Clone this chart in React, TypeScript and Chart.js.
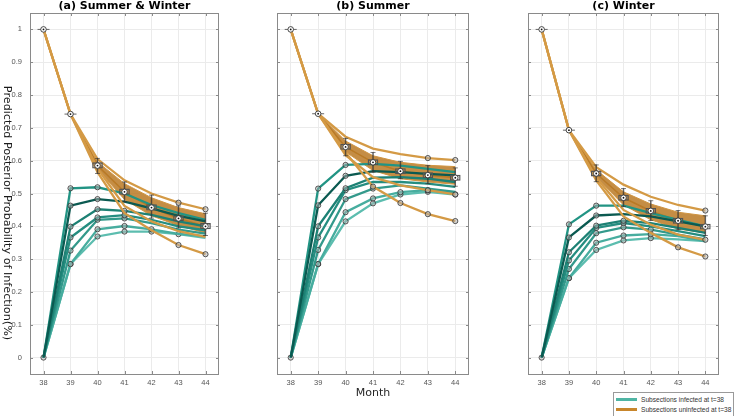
import React, { useEffect, useRef } from 'react';
import { Chart, registerables } from 'chart.js';
Chart.register(...registerables);

const months = [38, 39, 40, 41, 42, 43, 44];
const boxMonths = [40, 41, 42, 43, 44];
const collapsedMonths = [38, 39];
const yTickValues = [0, 0.1, 0.2, 0.3, 0.4, 0.5, 0.6, 0.7, 0.8, 0.9, 1];
const yTickLabels = ['0', '0.1', '0.2', '0.3', '0.4', '0.5', '0.6', '0.7', '0.8', '0.9', '1'];
const panelTitles = ['(a) Summer & Winter', '(b) Summer', '(c) Winter'];
const yAxisTitle = 'Predicted Posterior Probability of Infection(%)';
const xAxisTitle = 'Month';
const legendLabels = ['Subsections infected at t=38', 'Subsections uninfected at t=38'];

// ---- Panel (a) Summer & Winter ----
const aTeal1 = [0, 0.516, 0.519, 0.5, 0.465, 0.44, 0.42];
const aTeal2 = [0, 0.463, 0.483, 0.475, 0.455, 0.432, 0.415];
const aTeal3 = [0, 0.399, 0.452, 0.447, 0.435, 0.415, 0.4];
const aTeal4 = [0, 0.366, 0.427, 0.434, 0.42, 0.4, 0.388];
const aTeal5 = [0, 0.326, 0.42, 0.424, 0.41, 0.39, 0.378];
const aTeal6 = [0, 0.285, 0.391, 0.401, 0.391, 0.377, 0.37];
const aTeal7 = [0, 0.285, 0.369, 0.384, 0.384, 0.376, 0.365];
const aOrUpper = [1, 0.742, 0.605, 0.54, 0.5, 0.472, 0.452];
const aOrBandHi = [1, 0.742, 0.596, 0.53, 0.487, 0.457, 0.438];
const aOrMain = [1, 0.742, 0.585, 0.505, 0.457, 0.424, 0.4];
const aOrBandLo = [1, 0.742, 0.574, 0.482, 0.432, 0.402, 0.38];
const aOrLow = [1, 0.742, 0.576, 0.462, 0.415, 0.385, 0.368];
const aOrSteep = [1, 0.742, 0.565, 0.44, 0.388, 0.343, 0.315];
const aBoxLow = [0.577, 0.497, 0.449, 0.417, 0.392];
const aBoxHigh = [0.594, 0.514, 0.466, 0.432, 0.409];
const aWhiskerLow = [0.561, 0.475, 0.425, 0.395, 0.372];
const aWhiskerHigh = [0.607, 0.535, 0.495, 0.462, 0.44];

// ---- Panel (b) Summer ----
const bTeal1 = [0, 0.515, 0.587, 0.59, 0.585, 0.575, 0.565];
const bTeal2 = [0, 0.464, 0.554, 0.568, 0.565, 0.56, 0.555];
const bTeal3 = [0, 0.4, 0.516, 0.548, 0.55, 0.545, 0.535];
const bTeal4 = [0, 0.366, 0.51, 0.535, 0.535, 0.53, 0.52];
const bTeal5 = [0, 0.328, 0.483, 0.515, 0.525, 0.515, 0.505];
const bTeal6 = [0, 0.285, 0.443, 0.485, 0.504, 0.51, 0.5];
const bTeal7 = [0, 0.285, 0.415, 0.47, 0.497, 0.505, 0.497];
const bOrUpper = [1, 0.743, 0.673, 0.637, 0.62, 0.608, 0.602];
const bOrBandHi = [1, 0.743, 0.66, 0.615, 0.595, 0.586, 0.582];
const bOrMain = [1, 0.743, 0.642, 0.595, 0.568, 0.556, 0.548];
const bOrBandLo = [1, 0.743, 0.627, 0.57, 0.545, 0.535, 0.528];
const bOrLow = [1, 0.743, 0.617, 0.55, 0.525, 0.51, 0.497];
const bOrSteep = [1, 0.743, 0.625, 0.521, 0.471, 0.437, 0.416];
const bBoxLow = [0.634, 0.587, 0.56, 0.548, 0.54];
const bBoxHigh = [0.65, 0.603, 0.576, 0.564, 0.556];
const bWhiskerLow = [0.615, 0.565, 0.545, 0.53, 0.522];
const bWhiskerHigh = [0.668, 0.625, 0.598, 0.585, 0.578];

// ---- Panel (c) Winter ----
const cTeal1 = [0, 0.406, 0.463, 0.463, 0.44, 0.42, 0.4];
const cTeal2 = [0, 0.366, 0.433, 0.437, 0.43, 0.415, 0.4];
const cTeal3 = [0, 0.321, 0.402, 0.417, 0.41, 0.395, 0.38];
const cTeal4 = [0, 0.296, 0.395, 0.41, 0.4, 0.385, 0.37];
const cTeal5 = [0, 0.27, 0.379, 0.397, 0.39, 0.375, 0.36];
const cTeal6 = [0, 0.242, 0.35, 0.372, 0.376, 0.37, 0.355];
const cTeal7 = [0, 0.242, 0.328, 0.357, 0.364, 0.36, 0.355];
const cOrUpper = [1, 0.693, 0.58, 0.527, 0.49, 0.465, 0.448];
const cOrBandHi = [1, 0.693, 0.572, 0.505, 0.468, 0.443, 0.432];
const cOrMain = [1, 0.693, 0.561, 0.487, 0.447, 0.417, 0.399];
const cOrBandLo = [1, 0.693, 0.55, 0.465, 0.42, 0.392, 0.38];
const cOrLow = [1, 0.693, 0.548, 0.45, 0.405, 0.375, 0.359];
const cOrSteep = [1, 0.693, 0.54, 0.43, 0.38, 0.336, 0.308];
const cBoxLow = [0.553, 0.479, 0.439, 0.409, 0.391];
const cBoxHigh = [0.569, 0.495, 0.455, 0.425, 0.407];
const cWhiskerLow = [0.536, 0.46, 0.418, 0.39, 0.372];
const cWhiskerHigh = [0.587, 0.515, 0.478, 0.448, 0.432];

const TEAL_COLORS = ['#229484', '#0b5a51', '#1d8174', '#258d80', '#33998b', '#47ad9f', '#5cbdaf'];
const ORANGE = '#d49a45';
const BAND_FILL = 'rgba(186,121,36,0.85)';
const BAND_EDGE = '#cf9442';
const MAIN_LINE = '#b97a26';
const LEGEND_TEAL = '#4fb5a4';
const LEGEND_ORANGE = '#c8862c';

type PanelSpec = {
  title: string;
  teal: number[][];
  tealMarks: number[][];
  orUpper: number[];
  orBandHi: number[];
  orMain: number[];
  orBandLo: number[];
  orLow: number[];
  orSteep: number[];
  upperMarks: number[];
  lowMarks: number[];
  steepMarks: number[];
  boxLow: number[];
  boxHigh: number[];
  whLow: number[];
  whHigh: number[];
  left: number;
  width: number;
  yWidth: number;
  padRight: number;
  showY: boolean;
  showMonth: boolean;
};

const panels: PanelSpec[] = [
  {
    title: panelTitles[0],
    teal: [aTeal1, aTeal2, aTeal3, aTeal4, aTeal5, aTeal6, aTeal7],
    tealMarks: [[0, 1, 2], [1, 2], [1, 2, 3], [1, 2, 3], [1, 2, 3], [1, 2, 3, 4], [1, 2, 3, 4, 5]],
    orUpper: aOrUpper, orBandHi: aOrBandHi, orMain: aOrMain, orBandLo: aOrBandLo, orLow: aOrLow, orSteep: aOrSteep,
    upperMarks: [5, 6], lowMarks: [], steepMarks: [5, 6],
    boxLow: aBoxLow, boxHigh: aBoxHigh, whLow: aWhiskerLow, whHigh: aWhiskerHigh,
    left: 0, width: 240, yWidth: 30, padRight: 21, showY: true, showMonth: false,
  },
  {
    title: panelTitles[1],
    teal: [bTeal1, bTeal2, bTeal3, bTeal4, bTeal5, bTeal6, bTeal7],
    tealMarks: [[0, 1, 2], [1, 2], [1, 2], [1, 2], [1, 2, 3], [1, 2, 3, 4, 5], [1, 2, 3, 4, 5, 6]],
    orUpper: bOrUpper, orBandHi: bOrBandHi, orMain: bOrMain, orBandLo: bOrBandLo, orLow: bOrLow, orSteep: bOrSteep,
    upperMarks: [5, 6], lowMarks: [5, 6], steepMarks: [3, 4, 5, 6],
    boxLow: bBoxLow, boxHigh: bBoxHigh, whLow: bWhiskerLow, whHigh: bWhiskerHigh,
    left: 240, width: 240, yWidth: 37, padRight: 11, showY: false, showMonth: true,
  },
  {
    title: panelTitles[2],
    teal: [cTeal1, cTeal2, cTeal3, cTeal4, cTeal5, cTeal6, cTeal7],
    tealMarks: [[0, 1, 2], [1, 2], [1, 2, 3], [1, 2, 3], [1, 2, 3, 4], [1, 2, 3, 4], [1, 2, 3, 4]],
    orUpper: cOrUpper, orBandHi: cOrBandHi, orMain: cOrMain, orBandLo: cOrBandLo, orLow: cOrLow, orSteep: cOrSteep,
    upperMarks: [6], lowMarks: [6], steepMarks: [5, 6],
    boxLow: cBoxLow, boxHigh: cBoxHigh, whLow: cWhiskerLow, whHigh: cWhiskerHigh,
    left: 480, width: 254, yWidth: 48, padRight: 15, showY: false, showMonth: false,
  },
];

const pts = (ys: number[]) => ys.map((y, i) => ({ x: months[i], y }));
const marker = (marks: number[]) => (ctx: any) => (marks.includes(ctx.dataIndex) ? 2.6 : 0);

function buildDatasets(p: PanelSpec): any[] {
  const ds: any[] = [];
  // band
  ds.push({ type: 'line', data: pts(p.orBandLo), borderColor: BAND_EDGE, borderWidth: 1, pointRadius: 0, fill: false, order: 8 });
  ds.push({ type: 'line', data: pts(p.orBandHi), borderColor: BAND_EDGE, borderWidth: 1, pointRadius: 0, fill: '-1', backgroundColor: BAND_FILL, order: 8 });
  // teal lines
  p.teal.forEach((t, i) => {
    ds.push({
      type: 'line', data: pts(t), borderColor: TEAL_COLORS[i], borderWidth: 2.3, fill: false,
      pointRadius: marker(p.tealMarks[i]), pointBackgroundColor: 'rgba(175,175,175,0.5)',
      pointBorderColor: '#333333', pointBorderWidth: 0.8, order: 5 + (i === 1 ? -1 : 0),
    });
  });
  // orange lines
  const orangeLine = (ys: number[], marks: number[]) => ({
    type: 'line', data: pts(ys), borderColor: ORANGE, borderWidth: 2.3, fill: false,
    pointRadius: marker(marks), pointBackgroundColor: 'rgba(175,175,175,0.5)',
    pointBorderColor: '#333333', pointBorderWidth: 0.8, order: 3,
  });
  ds.push(orangeLine(p.orUpper, p.upperMarks));
  ds.push(orangeLine(p.orLow, p.lowMarks));
  ds.push(orangeLine(p.orSteep, p.steepMarks));
  ds.push({ type: 'line', data: pts(p.orMain), borderColor: MAIN_LINE, borderWidth: 1.6, pointRadius: 0, fill: false, order: 6 });
  // boxes
  ds.push({
    type: 'bar', data: boxMonths.map((m, i) => ({ x: m, y: [p.boxLow[i], p.boxHigh[i]] })),
    backgroundColor: 'rgba(255,255,255,0.06)', borderColor: '#505050', borderWidth: 0.7, borderSkipped: false,
    barThickness: 10, grouped: false, order: 2,
  });
  ds.push({
    type: 'bar', data: boxMonths.map((m, i) => ({ x: m, y: [p.whLow[i], p.whHigh[i]] })),
    backgroundColor: 'rgba(50,50,50,0.75)', borderWidth: 0, barThickness: 0.8, grouped: false, order: 2,
  });
  // whisker caps and collapsed boxes at 38 / 39
  ds.push({
    type: 'scatter',
    data: [
      ...boxMonths.map((m, i) => ({ x: m, y: p.whLow[i] })),
      ...boxMonths.map((m, i) => ({ x: m, y: p.whHigh[i] })),
    ],
    pointStyle: 'line', pointRadius: 2.5, pointBorderColor: 'rgba(50,50,50,0.8)', pointBorderWidth: 0.8, order: 1,
  });
  ds.push({
    type: 'scatter', data: collapsedMonths.map((m, i) => ({ x: m, y: p.orMain[i] })),
    pointStyle: 'line', pointRadius: 6, pointBorderColor: '#666666', pointBorderWidth: 1, order: 1,
  });
  // medians
  ds.push({
    type: 'scatter', data: pts(p.orMain), pointRadius: 2.8, pointBackgroundColor: '#ffffff',
    pointBorderColor: '#333333', pointBorderWidth: 0.9, order: 0,
  });
  ds.push({
    type: 'scatter', data: pts(p.orMain), pointRadius: 0.9, pointBackgroundColor: '#111111',
    pointBorderWidth: 0, order: -1,
  });
  return ds;
}

function makeFramePlugin(p: PanelSpec) {
  return {
    id: 'frameAndText',
    afterDraw(chart: any) {
      const { ctx, chartArea: a, scales } = chart;
      ctx.save();
      ctx.strokeStyle = '#8a8a8a';
      ctx.lineWidth = 1;
      ctx.strokeRect(Math.round(a.left) + 0.5, Math.round(a.top) + 0.5, Math.round(a.right - a.left) - 1, Math.round(a.bottom - a.top));
      ctx.beginPath();
      scales.x.ticks.forEach((t: any) => {
        const x = Math.round(scales.x.getPixelForValue(t.value)) + 0.5;
        ctx.moveTo(x, a.bottom); ctx.lineTo(x, a.bottom - 3);
        ctx.moveTo(x, a.top); ctx.lineTo(x, a.top + 3);
      });
      scales.y.ticks.forEach((t: any) => {
        const y = Math.round(scales.y.getPixelForValue(t.value)) + 0.5;
        ctx.moveTo(a.left, y); ctx.lineTo(a.left + 3, y);
        ctx.moveTo(a.right, y); ctx.lineTo(a.right - 3, y);
      });
      ctx.stroke();
      ctx.fillStyle = '#000000';
      ctx.font = 'bold 11px "DejaVu Sans"';
      ctx.textAlign = 'center';
      ctx.textBaseline = 'middle';
      ctx.fillText(p.title, (a.left + a.right) / 2, 6);
      if (p.showY) {
        ctx.translate(6.5, 213);
        ctx.rotate(Math.PI / 2);
        ctx.font = '11.2px "DejaVu Sans"';
        ctx.fillStyle = '#1a1a1a';
        ctx.fillText(yAxisTitle, 0, 0);
      }
      ctx.restore();
    },
  };
}

function Panel({ p }: { p: PanelSpec }) {
  const ref = useRef<HTMLCanvasElement>(null);
  useEffect(() => {
    if (!ref.current) return;
    const chart = new Chart(ref.current, {
      type: 'line',
      data: { datasets: buildDatasets(p) },
      options: {
        responsive: false,
        animation: false,
        layout: { padding: { top: 13, right: p.padRight, left: 0, bottom: 0 } },
        plugins: { legend: { display: false }, tooltip: { enabled: false }, title: { display: false } },
        scales: {
          x: {
            type: 'linear', min: 37.5, max: 44.5, offset: false,
            afterBuildTicks: (s: any) => { s.ticks = months.map((v) => ({ value: v })); },
            afterFit: (s: any) => { s.height = 42; },
            ticks: { font: { family: '"Liberation Sans"', size: 7.5 }, color: '#555555', padding: 4, callback: (v: any) => String(v) },
            grid: { color: '#ebebeb', drawTicks: false, offset: false },
            border: { display: false },
            title: {
              display: p.showMonth, text: xAxisTitle, color: '#262626',
              font: { family: '"DejaVu Sans"', size: 11 }, padding: { top: 0, bottom: 16 },
            },
          },
          y: {
            type: 'linear', min: -0.05, max: 1.05,
            afterBuildTicks: (s: any) => { s.ticks = yTickValues.map((v) => ({ value: v })); },
            afterFit: (s: any) => { s.width = p.yWidth; },
            ticks: {
              display: p.showY, font: { family: '"Liberation Sans"', size: 7.5 }, color: '#555555', padding: 8,
              callback: (_v: any, i: number) => yTickLabels[i],
            },
            grid: { color: '#ebebeb', drawTicks: false },
            border: { display: false },
          },
        },
      } as any,
      plugins: [makeFramePlugin(p)],
    });
    return () => chart.destroy();
  }, [p]);
  return (
    <canvas
      ref={ref}
      width={p.width}
      height={416}
      style={{ position: 'absolute', left: p.left, top: 0, width: p.width, height: 416 }}
    />
  );
}

export default function App() {
  return (
    <div style={{ position: 'fixed', left: 0, top: 0, width: 734, height: 416, background: '#ffffff', overflow: 'hidden' }}>
      {panels.map((p, i) => (
        <Panel key={i} p={p} />
      ))}
      <div
        style={{
          position: 'absolute', left: 613, top: 392, width: 119, height: 23, border: '1px solid #9a9a9a',
          background: '#ffffff', fontFamily: '"Liberation Sans", Arial, sans-serif', fontSize: 6.6, color: '#333333',
        }}
      >
        {legendLabels.map((label, i) => (
          <div key={i} style={{ position: 'absolute', left: 2, top: 2 + i * 10, height: 9, display: 'flex', alignItems: 'center', whiteSpace: 'nowrap' }}>
            <span style={{ display: 'inline-block', width: 21, height: 3, background: i === 0 ? LEGEND_TEAL : LEGEND_ORANGE, marginRight: 4 }} />
            <span>{label}</span>
          </div>
        ))}
      </div>
    </div>
  );
}
